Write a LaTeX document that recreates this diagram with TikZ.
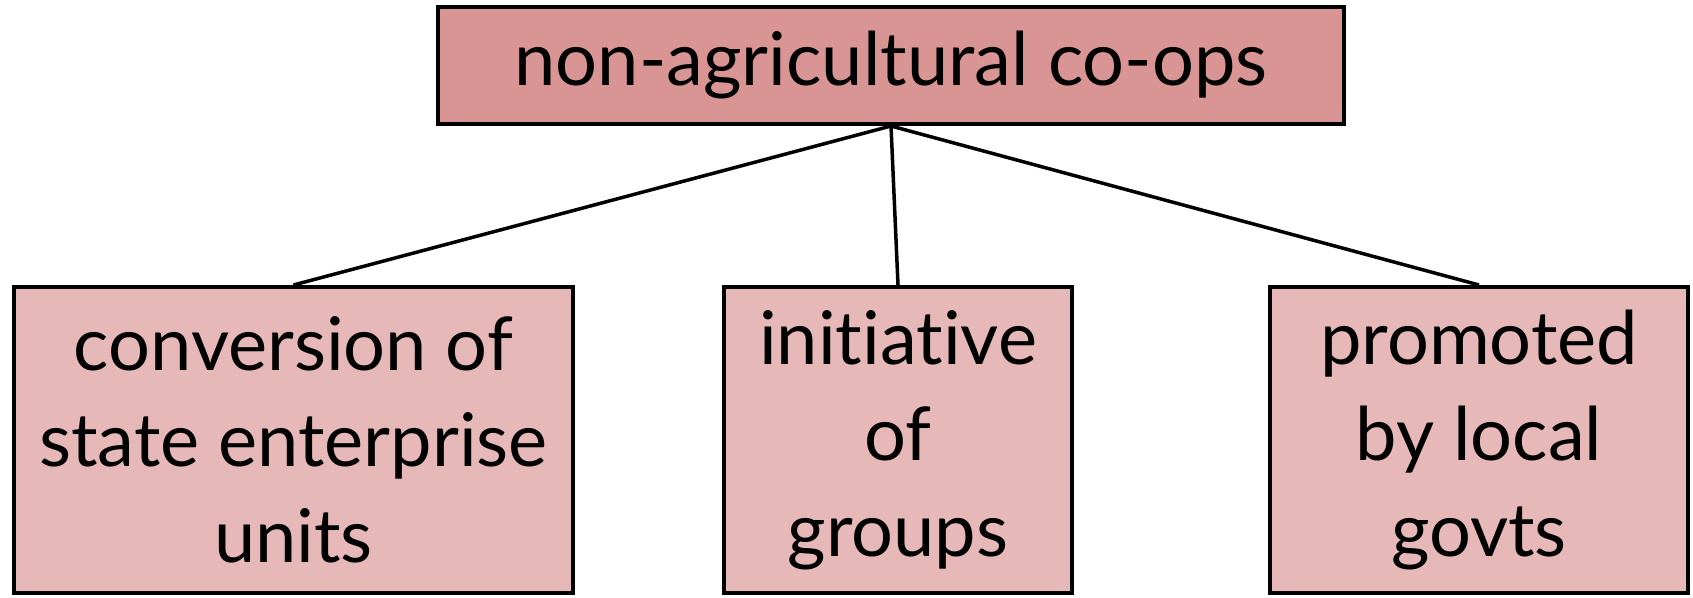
\documentclass[tikz,border=0pt]{standalone}
\usepackage{fontspec}
\setmainfont{Lato}[Ligatures=NoCommon]
\definecolor{rosedark}{HTML}{D99594}
\definecolor{roselight}{HTML}{E6B8B7}
\tikzset{
  headbox/.style={draw,line width=4pt,fill=rosedark,inner sep=0pt,
    minimum width=906,minimum height=117,font=\fontsize{74}{96}\selectfont},
  kindbox/.style={draw,line width=4pt,fill=roselight,inner sep=0pt,align=center,
    minimum height=306,font=\fontsize{74}{96}\selectfont},
  branch/.style={line width=3.5pt}
}
\newcommand{\kind}[5]{\node[kindbox,minimum width=#4] (#1) at (#2,#3) {#5};}
\newcommand{\branchto}[2]{\draw[branch] (#1.south) -- (#2.north);}

\begin{document}
\begin{tikzpicture}[x=1pt,y=-1pt]
    \useasboundingbox (0,0) rectangle (1693,597);
    \node[headbox] (coops) at (891,65.5) {non-agricultural co-ops};
    \kind{state}{293.5}{440}{559}{conversion of\\state enterprise\\units}
    \kind{groups}{898}{440}{348}{initiative\\of\\groups}
    \kind{local}{1479}{440}{418}{promoted\\by local\\govts}
    \branchto{coops}{state}\branchto{coops}{groups}\branchto{coops}{local}
\end{tikzpicture}
\end{document}
